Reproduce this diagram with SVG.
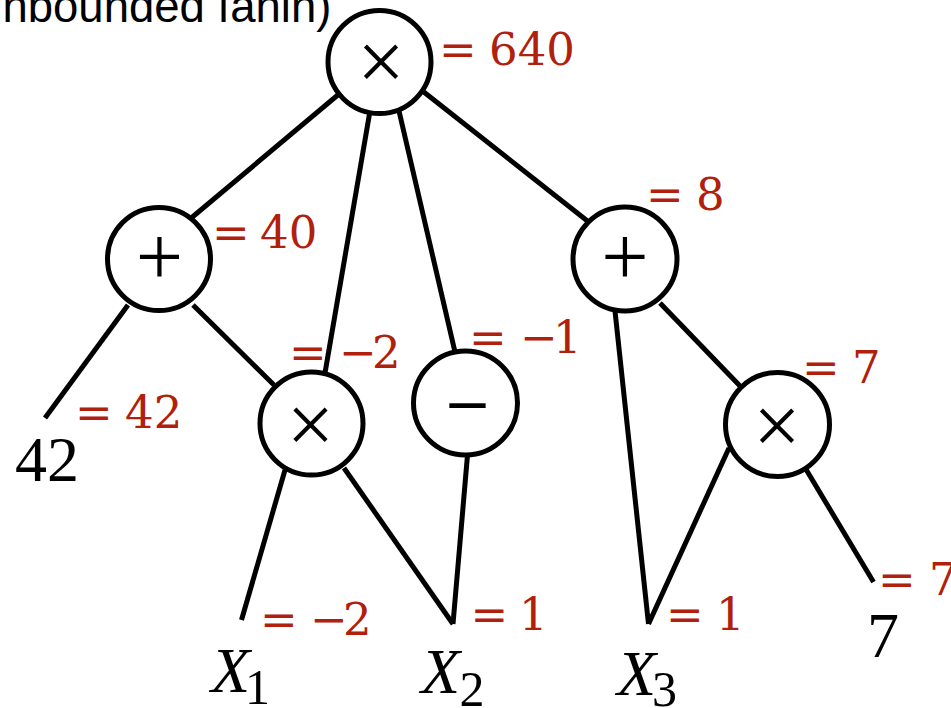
<svg xmlns="http://www.w3.org/2000/svg" width="951" height="708" viewBox="0 0 951 708">
  <style>
    .edge { stroke: #000; stroke-width: 5; stroke-linecap: butt; fill: none; }
    .gate { fill: #fff; stroke: #000; stroke-width: 5; }
    .op { font-family: "Liberation Serif", "Times New Roman", serif; font-size: 84px; fill: #000; text-anchor: middle; }
    .opminus { font-family: "DejaVu Sans", sans-serif; font-size: 58px; fill: #000; text-anchor: middle; }
    .val { font-family: "DejaVu Serif", "Liberation Serif", serif; font-size: 45px; fill: #B0200C; }
    .leaf { font-family: "Liberation Serif", "Times New Roman", serif; font-size: 64px; fill: #000; }
    .var { font-family: "Liberation Serif", "Times New Roman", serif; font-size: 64px; font-style: italic; fill: #000; }
    .sub { font-family: "Liberation Serif", "Times New Roman", serif; font-size: 50px; fill: #000; }
    .caption { font-family: "Liberation Sans", Arial, sans-serif; font-size: 45.5px; fill: #000; }
  </style>

  <rect width="951" height="708" fill="#fff"/>

  <!-- heading, running off the top-left edge -->
  <text class="caption" x="-38" y="22">(unbounded fanin)</text>

  <!-- wires between gates and inputs -->
  <g id="connectors">
    <line class="edge" x1="345" y1="89" x2="190" y2="219"/>
    <line class="edge" x1="370" y1="111" x2="325" y2="373"/>
    <line class="edge" x1="399" y1="111" x2="455" y2="352"/>
    <line class="edge" x1="420" y1="89" x2="590" y2="223"/>
    <line class="edge" x1="128" y1="305" x2="45" y2="418"/>
    <line class="edge" x1="193" y1="305" x2="274" y2="385"/>
    <line class="edge" x1="285" y1="470" x2="241.5" y2="620"/>
    <line class="edge" x1="344" y1="468" x2="453" y2="624"/>
    <line class="edge" x1="467.5" y1="455" x2="453" y2="624"/>
    <line class="edge" x1="615" y1="311" x2="648.5" y2="624"/>
    <line class="edge" x1="660" y1="303" x2="741" y2="387"/>
    <line class="edge" x1="729" y1="448" x2="648.5" y2="624"/>
    <line class="edge" x1="804" y1="466" x2="873.5" y2="582"/>
  </g>

  <!-- root product gate -->
  <g id="node-root">
    <circle class="gate" cx="379.5" cy="62" r="51.5"/>
    <text class="op" x="381" y="90">×</text>
    <text class="val" y="65"><tspan x="439">=</tspan><tspan x="489">640</tspan></text>
  </g>

  <!-- left sum gate -->
  <g id="node-sum-left">
    <circle class="gate" cx="159" cy="259" r="51.5"/>
    <text class="op" x="159.5" y="285">+</text>
    <text class="val" y="248"><tspan x="212">=</tspan><tspan x="260">40</tspan></text>
  </g>

  <!-- product gate over X1, X2 -->
  <g id="node-prod-mid">
    <circle class="gate" cx="311.5" cy="423.5" r="51.5"/>
    <text class="op" x="310.5" y="453">×</text>
    <text class="val" y="368"><tspan x="289">=</tspan><tspan x="339">−</tspan><tspan x="372">2</tspan></text>
  </g>

  <!-- negation gate -->
  <g id="node-neg">
    <circle class="gate" cx="465.5" cy="403" r="52"/>
    <text class="opminus" x="467.5" y="424">−</text>
    <text class="val" y="353"><tspan x="469">=</tspan><tspan x="520">−</tspan><tspan x="553">1</tspan></text>
  </g>

  <!-- right sum gate -->
  <g id="node-sum-right">
    <circle class="gate" cx="625" cy="259" r="52"/>
    <text class="op" x="625" y="285">+</text>
    <text class="val" y="210"><tspan x="646">=</tspan><tspan x="696">8</tspan></text>
  </g>

  <!-- product gate over X3, 7 -->
  <g id="node-prod-right">
    <circle class="gate" cx="777.5" cy="424.5" r="52"/>
    <text class="op" x="777" y="454">×</text>
    <text class="val" y="383"><tspan x="802">=</tspan><tspan x="852">7</tspan></text>
  </g>

  <!-- constant input 42 -->
  <g id="leaf-42">
    <text class="leaf" x="15" y="481">42</text>
    <text class="val" y="428"><tspan x="75">=</tspan><tspan x="125">42</tspan></text>
  </g>

  <!-- input X1 -->
  <g id="leaf-x1">
    <text class="var" x="211" y="692">X</text>
    <text class="sub" x="245" y="704">1</text>
    <text class="val" y="635"><tspan x="260">=</tspan><tspan x="310">−</tspan><tspan x="343">2</tspan></text>
  </g>

  <!-- input X2 -->
  <g id="leaf-x2">
    <text class="var" x="421" y="693">X</text>
    <text class="sub" x="459.5" y="706">2</text>
    <text class="val" y="630"><tspan x="470.5">=</tspan><tspan x="519">1</tspan></text>
  </g>

  <!-- input X3 -->
  <g id="leaf-x3">
    <text class="var" x="617" y="695">X</text>
    <text class="sub" x="652" y="706">3</text>
    <text class="val" y="630"><tspan x="666">=</tspan><tspan x="716">1</tspan></text>
  </g>

  <!-- constant input 7 -->
  <g id="leaf-7">
    <text class="leaf" x="867" y="657">7</text>
    <text class="val" y="595"><tspan x="878">=</tspan><tspan x="929">7</tspan></text>
  </g>
</svg>
